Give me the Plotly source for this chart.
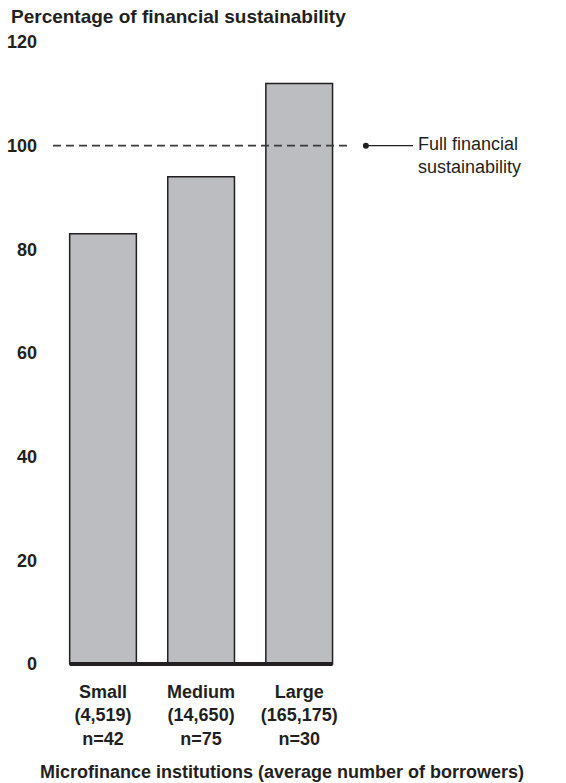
import plotly.graph_objects as go

categories = ["Small", "Medium", "Large"]
borrowers = ["(4,519)", "(14,650)", "(165,175)"]
n_counts = ["n=42", "n=75", "n=30"]
sustainability = [83, 94, 112]
y_ticks = [0, 20, 40, 60, 80, 100, 120]
full_line = 100

INK = "#231f20"
FONT = "Liberation Sans, Arial, Helvetica, sans-serif"

x_pos = list(range(len(categories)))
tick_text = [f"{c}<br>{b}<br>{n}" for c, b, n in zip(categories, borrowers, n_counts)]

fig = go.Figure()
fig.add_trace(go.Bar(
    x=x_pos, y=sustainability, width=0.68,
    marker=dict(color="#bcbdc0", line=dict(color=INK, width=1.5)),
    hoverinfo="skip", showlegend=False,
))
fig.add_trace(go.Scatter(
    x=[2.68], y=[full_line], mode="markers",
    marker=dict(color=INK, size=6), hoverinfo="skip", showlegend=False,
))

shapes = [
    dict(type="line", xref="x", yref="y", x0=-0.51, x1=2.53, y0=full_line, y1=full_line,
         line=dict(color="#3a3a3a", width=1.8, dash="8px,5px"), layer="above"),
    dict(type="line", xref="x", yref="y", x0=2.68, x1=3.16, y0=full_line, y1=full_line,
         line=dict(color=INK, width=1.2), layer="above"),
    dict(type="line", xref="x", yref="y", x0=-0.34, x1=2.34, y0=0, y1=0,
         line=dict(color=INK, width=4), layer="above"),
]

annotations = [
    dict(x=3.19, y=full_line, xref="x", yref="y", text="Full financial<br>sustainability",
         showarrow=False, xanchor="left", yanchor="middle", align="left", yshift=-10,
         font=dict(family=FONT, size=18, color=INK)),
    dict(x=(282 - 53) / 513, y=(667 - 772) / 625, xref="paper", yref="paper",
         text="Microfinance institutions (average number of borrowers)",
         showarrow=False, xanchor="center", yanchor="middle",
         font=dict(family=FONT, size=18, color=INK, weight="bold")),
]

fig.update_layout(
    width=566, height=783,
    margin=dict(l=53, r=0, t=42, b=116),
    paper_bgcolor="white", plot_bgcolor="white",
    font=dict(family=FONT, color=INK),
    title=dict(text="Percentage of financial sustainability", x=11 / 566, xanchor="left",
               xref="container", y=1 - 16 / 783, yanchor="middle", yref="container",
               font=dict(family=FONT, size=19, color=INK, weight="bold")),
    shapes=shapes,
    annotations=annotations,
    xaxis=dict(range=[-0.51, 4.72], tickvals=x_pos, ticktext=tick_text,
               showgrid=False, zeroline=False, showline=False, ticks="",
               ticklabelstandoff=12, automargin=False, fixedrange=True,
               tickfont=dict(family=FONT, size=18, color=INK, weight="bold")),
    yaxis=dict(range=[-0.6, 120], tickvals=y_ticks, showgrid=False, zeroline=False,
               showline=False, ticks="", ticklabelstandoff=15, automargin=False,
               fixedrange=True,
               tickfont=dict(family=FONT, size=18, color=INK, weight="bold")),
)

fig.write_html("out.html", config={"displayModeBar": False},
               post_script="document.body.style.margin='0';")
